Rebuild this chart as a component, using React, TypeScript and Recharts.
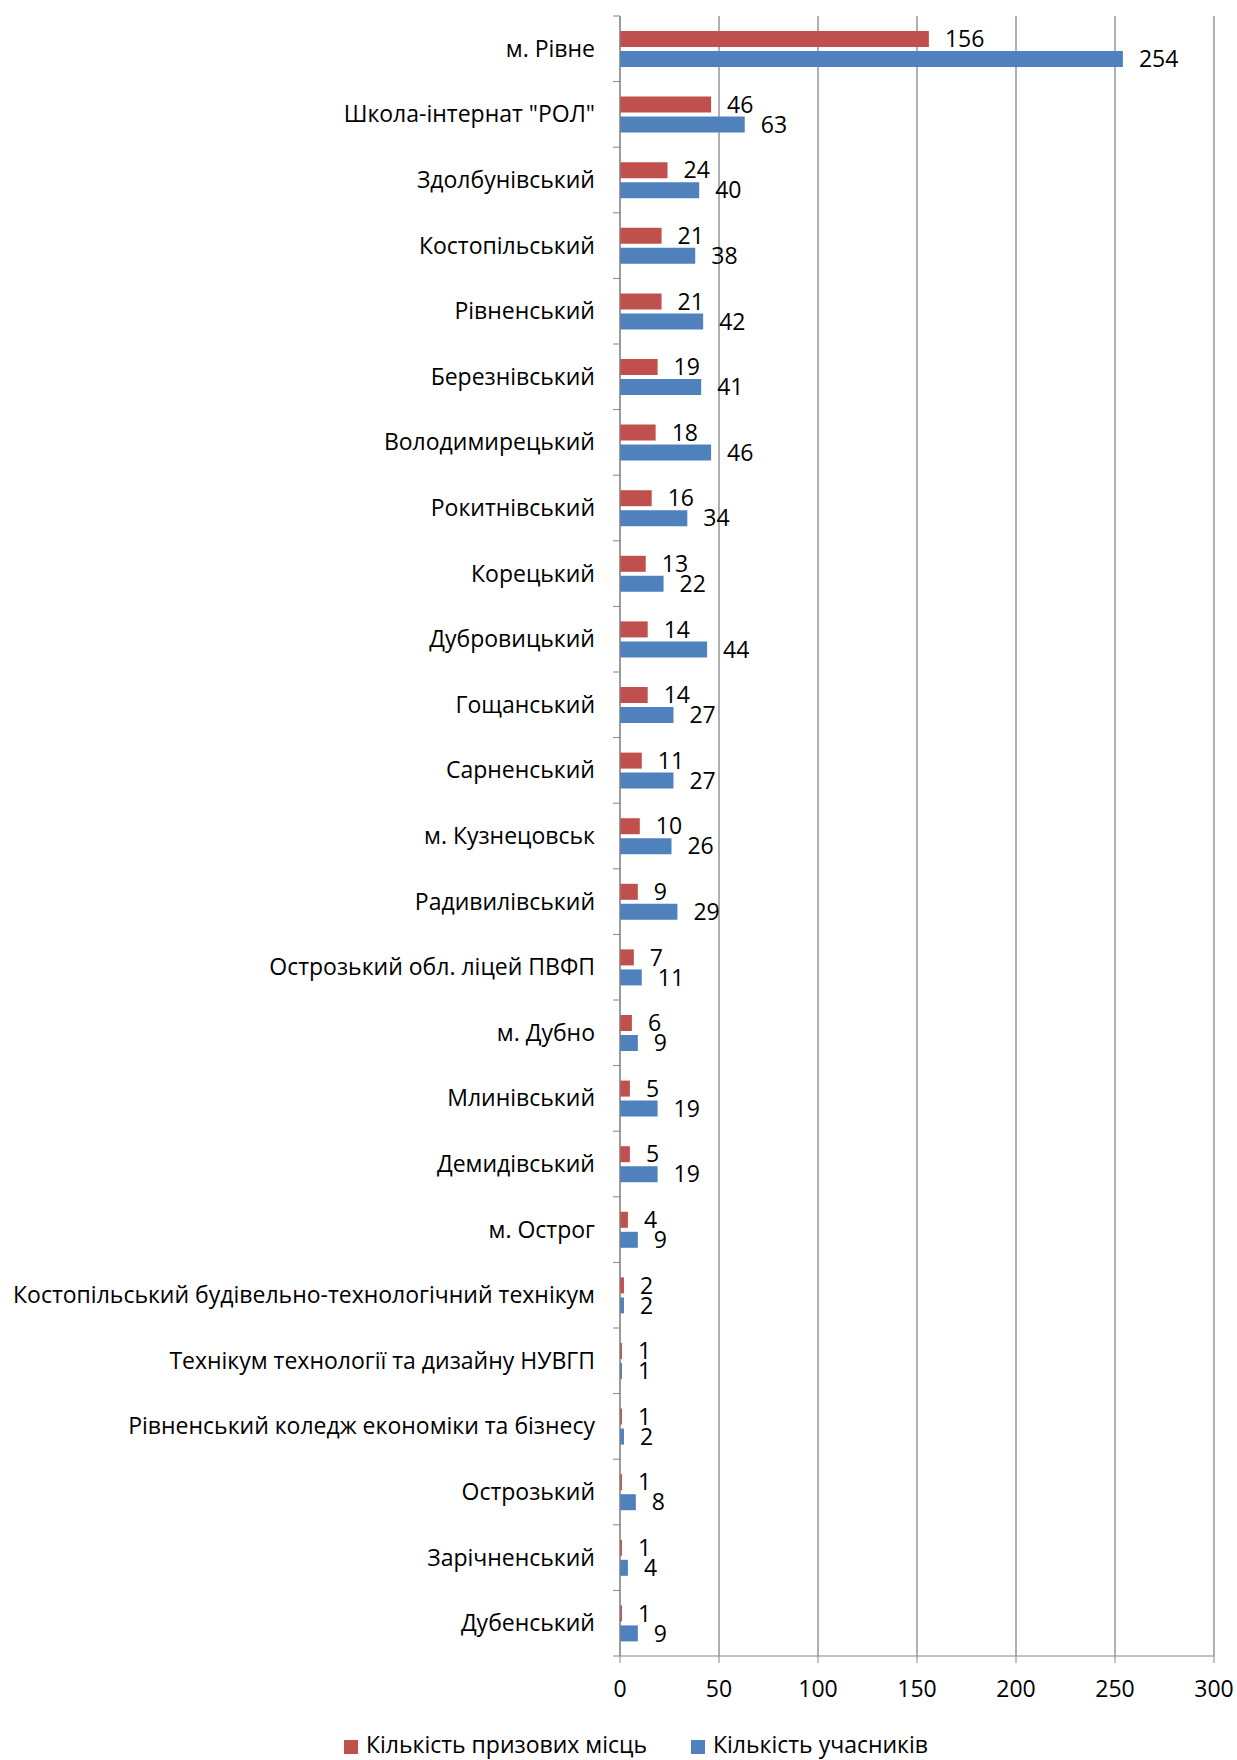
import React from 'react';
import { BarChart, Bar, XAxis, YAxis, CartesianGrid, Legend, LabelList } from 'recharts';

const categories: string[] = [
  'м. Рівне',
  'Школа-інтернат "РОЛ"',
  'Здолбунівський',
  'Костопільський',
  'Рівненський',
  'Березнівський',
  'Володимирецький',
  'Рокитнівський',
  'Корецький',
  'Дубровицький',
  'Гощанський',
  'Сарненський',
  'м. Кузнецовськ',
  'Радивилівський',
  'Острозький обл. ліцей ПВФП',
  'м. Дубно',
  'Млинівський',
  'Демидівський',
  'м. Острог',
  'Костопільський будівельно-технологічний технікум',
  'Технікум технології та дизайну НУВГП',
  'Рівненський коледж економіки та бізнесу',
  'Острозький',
  'Зарічненський',
  'Дубенський',
];

const prizes: number[] = [156, 46, 24, 21, 21, 19, 18, 16, 13, 14, 14, 11, 10, 9, 7, 6, 5, 5, 4, 2, 1, 1, 1, 1, 1];
const participants: number[] = [254, 63, 40, 38, 42, 41, 46, 34, 22, 44, 27, 27, 26, 29, 11, 9, 19, 19, 9, 2, 1, 2, 8, 4, 9];

const xTicks: number[] = [0, 50, 100, 150, 200, 250, 300];

const seriesNames = {
  prizes: 'Кількість призових місць',
  participants: 'Кількість учасників',
};

const data = categories.map((name, i) => ({
  name,
  prizes: prizes[i],
  participants: participants[i],
}));

const FONT = '"Open Sans", "Noto Sans", sans-serif';
const FS = 23;
const CHART_W = 1237;
const CHART_H = 1760;
const MARGIN = { top: 16, right: 23, left: 0, bottom: 0 };
const Y_W = 620;
const X_H = 76;
const LEGEND_H = 28;
const TICK_SIZE = 7;
const TICK_MARGIN = 25;
const GRID = '#868686';

const plotHeight = CHART_H - MARGIN.top - MARGIN.bottom - X_H - LEGEND_H;
const band = plotHeight / categories.length;

const CategoryTick = (props: any) => {
  const { x, y, payload, index } = props;
  const axisX = x + TICK_MARGIN;
  const top = y - band / 2;
  const bottom = y + band / 2;
  return (
    <g>
      <line x1={axisX - TICK_SIZE} x2={axisX} y1={top} y2={top} stroke={GRID} strokeWidth={1} />
      {index === categories.length - 1 && (
        <line x1={axisX - TICK_SIZE} x2={axisX} y1={bottom} y2={bottom} stroke={GRID} strokeWidth={1} />
      )}
      <text x={x} y={y} dy={8} textAnchor="end" fill="#000" fontSize={FS} fontFamily={FONT}>
        {payload.value}
      </text>
    </g>
  );
};

export default function App() {
  return (
    <div style={{ position: 'absolute', left: 0, top: 0, background: '#fff' }}>
      <BarChart
        width={CHART_W}
        height={CHART_H}
        data={data}
        layout="vertical"
        margin={MARGIN}
        barSize={16}
        barGap={4}
      >
        <CartesianGrid horizontal={false} stroke={GRID} strokeWidth={1.3} />
        <XAxis
          type="number"
          domain={[0, 300]}
          ticks={xTicks}
          height={X_H}
          tickSize={TICK_SIZE}
          tickMargin={18}
          axisLine={{ stroke: GRID }}
          tickLine={{ stroke: GRID }}
          tick={{ fill: '#000', fontSize: FS, fontFamily: FONT }}
          interval={0}
        />
        <YAxis
          type="category"
          dataKey="name"
          width={Y_W}
          tickLine={false}
          tickSize={0}
          tickMargin={TICK_MARGIN}
          axisLine={{ stroke: GRID }}
          tick={<CategoryTick />}
          interval={0}
        />
        <Legend
          verticalAlign="bottom"
          align="center"
          height={LEGEND_H}
          iconType="square"
          iconSize={14}
          wrapperStyle={{ fontFamily: FONT, fontSize: FS, color: '#000', paddingLeft: 34, lineHeight: '24px' }}
          formatter={(value: string, _entry: any, index: number) => (
            <span style={{ color: '#000', marginLeft: 4, marginRight: index === 0 ? 34 : 0 }}>{value}</span>
          )}
        />
        <Bar dataKey="prizes" name={seriesNames.prizes} fill="#C0504D" isAnimationActive={false}>
          <LabelList dataKey="prizes" position="right" offset={16} fill="#000" fontSize={FS} fontFamily={FONT} />
        </Bar>
        <Bar dataKey="participants" name={seriesNames.participants} fill="#4F81BD" isAnimationActive={false}>
          <LabelList dataKey="participants" position="right" offset={16} fill="#000" fontSize={FS} fontFamily={FONT} />
        </Bar>
      </BarChart>
    </div>
  );
}
